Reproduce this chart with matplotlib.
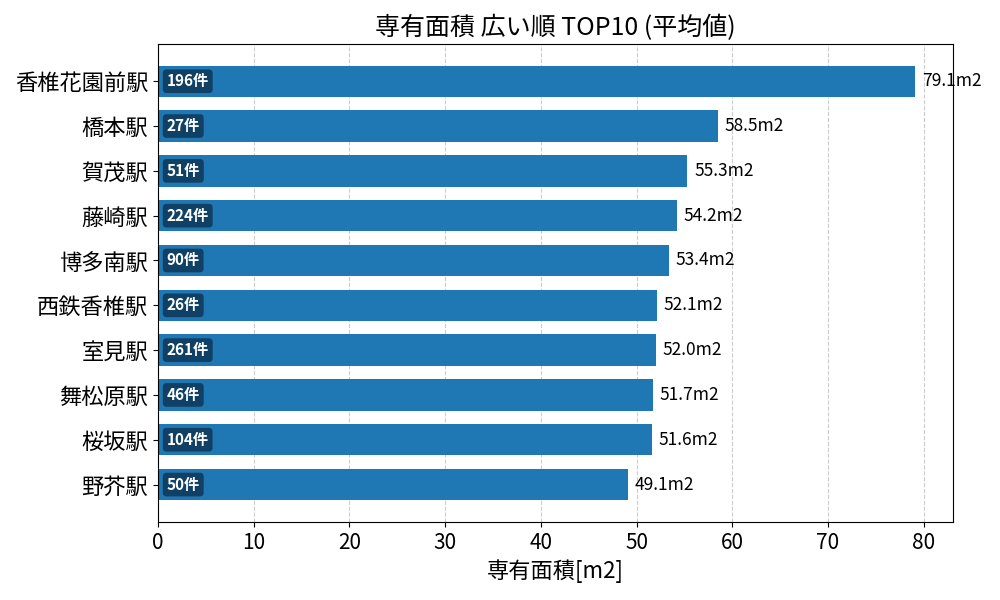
import matplotlib
matplotlib.use("Agg")
import matplotlib.pyplot as plt
import numpy as np

plt.rcParams['font.family'] = ['Noto Sans CJK JP', 'DejaVu Sans']

stations = ['香椎花園前駅', '橋本駅', '賀茂駅', '藤崎駅', '博多南駅',
            '西鉄香椎駅', '室見駅', '舞松原駅', '桜坂駅', '野芥駅']
areas = [79.1, 58.5, 55.3, 54.2, 53.4, 52.1, 52.0, 51.7, 51.6, 49.1]
counts = [196, 27, 51, 224, 90, 26, 261, 46, 104, 50]

fig, ax = plt.subplots(figsize=(10, 6), dpi=100)

y = np.arange(len(stations))
ax.barh(y, areas, height=0.7, color='#1f77b4', zorder=2)
ax.set_yticks(y)
ax.set_yticklabels(stations, fontsize=16)
ax.invert_yaxis()

for i, (a, c) in enumerate(zip(areas, counts)):
    ax.text(a + 0.7, i, f'{a:.1f}m2', va='center', ha='left', fontsize=12.5, zorder=3)
    ax.text(0.9, i, f'{c}件', va='center', ha='left', fontsize=11,
            fontweight='bold', color='white', zorder=4,
            bbox=dict(boxstyle='round,pad=0.25', facecolor='#0f3a5c',
                      edgecolor='none', alpha=0.9))

ax.set_xlim(0, max(areas) * 1.05)
ax.set_xlabel('専有面積[m2]', fontsize=16)
ax.set_title('専有面積 広い順 TOP10 (平均値)', fontsize=18)
ax.tick_params(axis='x', labelsize=15)
ax.grid(axis='x', linestyle='--', color='#cccccc', zorder=0)
ax.set_axisbelow(True)

plt.subplots_adjust(left=0.158, right=0.953, top=0.927, bottom=0.13)
plt.savefig('out.png')
